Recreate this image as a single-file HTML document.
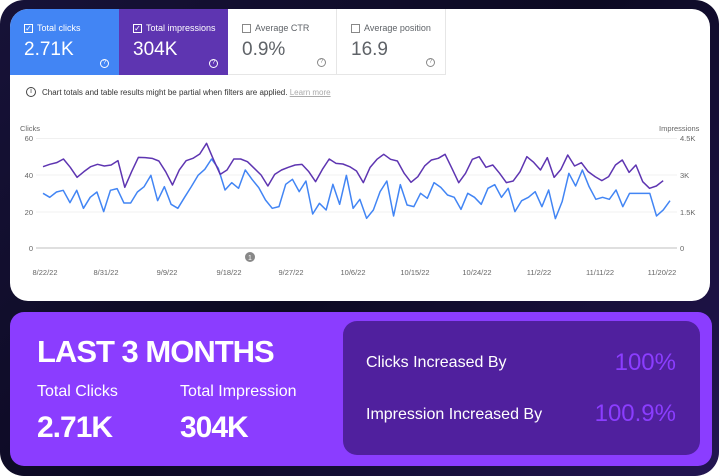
<!DOCTYPE html>
<html><head><meta charset="utf-8"><style>
*{margin:0;padding:0;box-sizing:border-box}
body{width:719px;height:476px;background:#fff;font-family:"Liberation Sans",sans-serif;overflow:hidden}
.frame{position:absolute;left:0;top:0;width:719px;height:476px;border-radius:24px;background:linear-gradient(135deg,#171238 0%,#0c0a22 50%,#231552 100%)}
.card{position:absolute;left:10px;top:9px;width:700px;height:292px;background:#fff;border-radius:18px;overflow:hidden}
.tile{position:absolute;top:0;height:66px;width:109px;color:#fff}
.tile .l{position:absolute;left:14px;top:14px;font-size:9px;display:flex;align-items:center}
.cb{width:9px;height:9px;border:1px solid #fff;margin-right:4px;font-size:8px;line-height:7px;text-align:center}
.tile .v{position:absolute;left:14px;top:30px;font-size:19px}
.q{position:absolute;right:10px;bottom:7px;width:9px;height:9px;border:1px solid #fff;border-radius:50%;font-size:6px;text-align:center;line-height:7px}
.w{color:#5f6368;border-right:1px solid #e6e6e6;border-bottom:1px solid #e6e6e6}
.w .cb{border-color:#888}
.w .q{border-color:#888;color:#888}
.bot{position:absolute;left:10px;top:312px;width:702px;height:154px;background:#8b3dff;border-radius:14px;color:#fff}
.inner{position:absolute;left:333px;top:9px;width:357px;height:134px;background:#50209e;border-radius:14px}
</style></head><body>
<div class="frame"></div>
<div class="card">
 <div class="tile" style="left:0;background:#4285f4"><div class="l"><span class="cb">✓</span>Total clicks</div><div class="v">2.71K</div><div class="q">?</div></div>
 <div class="tile" style="left:109px;background:#5e35b1"><div class="l"><span class="cb">✓</span>Total impressions</div><div class="v">304K</div><div class="q">?</div></div>
 <div class="tile w" style="left:218px"><div class="l"><span class="cb"></span>Average CTR</div><div class="v">0.9%</div><div class="q">?</div></div>
 <div class="tile w" style="left:327px"><div class="l"><span class="cb"></span>Average position</div><div class="v">16.9</div><div class="q">?</div></div>
 <div style="position:absolute;left:16px;top:78px;font-size:8px;color:#333;display:flex;align-items:center"><span style="width:10px;height:10px;border:1px solid #444;border-radius:50%;font-size:7px;text-align:center;line-height:8px;margin-right:6px">i</span>Chart totals and table results might be partial when filters are applied.&nbsp;<span style="color:#aaa;text-decoration:underline">Learn more</span></div>
</div>
<svg width="719" height="476" style="position:absolute;left:0;top:0" font-family="Liberation Sans" font-size="7.5" fill="#666">
 <text x="20" y="131">Clicks</text>
 <text x="659" y="131">Impressions</text>
 <g stroke="#f0f0f0" stroke-width="1"><line x1="36" x2="677" y1="138.5" y2="138.5"/><line x1="36" x2="677" y1="175" y2="175"/><line x1="36" x2="677" y1="212" y2="212"/></g>
 <line x1="36" x2="677" y1="248" y2="248" stroke="#ccc" stroke-width="1.2"/>
 <g text-anchor="end"><text x="33" y="141">60</text><text x="33" y="178">40</text><text x="33" y="215">20</text><text x="33" y="251">0</text></g>
 <g><text x="680" y="141">4.5K</text><text x="680" y="178">3K</text><text x="680" y="215">1.5K</text><text x="680" y="251">0</text></g>
 <g text-anchor="middle"><text x="45" y="275">8/22/22</text><text x="106" y="275">8/31/22</text><text x="167" y="275">9/9/22</text><text x="229" y="275">9/18/22</text><text x="291" y="275">9/27/22</text><text x="353" y="275">10/6/22</text><text x="415" y="275">10/15/22</text><text x="477" y="275">10/24/22</text><text x="539" y="275">11/2/22</text><text x="600" y="275">11/11/22</text><text x="662" y="275">11/20/22</text></g>
 <circle cx="250" cy="257" r="5" fill="#888"/><text x="250" y="260" fill="#fff" font-size="7" text-anchor="middle">1</text>
 <g transform="translate(43,110) scale(6.742,0.3333)"><polyline vector-effect="non-scaling-stroke" fill="none" stroke="#4285f4" stroke-width="1.5" stroke-linejoin="round" points="0,250 1,262 2,246 3,241 4,278 5,241 6,295 7,262 8,246 9,305 10,241 11,236 12,279 13,279 14,246 15,230 16,196 17,272 18,230 19,283 20,295 21,262 22,230 23,196 24,178 25,147 26,175 27,240 28,218 29,235 30,180 31,208 32,233 33,270 34,295 35,290 36,223 37,208 38,245 39,213 40,312 41,280 42,300 43,223 44,283 45,196 46,295 47,268 48,325 49,300 50,245 51,213 52,318 53,224 54,285 55,290 56,250 57,265 58,218 59,232 60,255 61,262 62,298 63,250 64,262 65,283 66,235 67,224 68,262 69,235 70,305 71,272 72,262 73,245 74,290 75,240 76,326 77,275 78,190 79,228 80,180 81,230 82,268 83,262 84,268 85,240 86,290 87,250 88,250 89,250 90,250 91,318 92,300 93,272"/></g>
 <g transform="translate(43,110) scale(6.815,0.3333)"><polyline vector-effect="non-scaling-stroke" fill="none" stroke="#5e35b1" stroke-width="1.5" stroke-linejoin="round" points="0,170 1,163 2,158 3,147 4,172 5,202 6,185 7,170 8,163 9,168 10,165 11,152 12,232 13,185 14,142 15,143 16,145 17,153 18,185 19,225 20,180 21,152 22,145 23,132 24,100 25,148 26,193 27,180 28,147 29,147 30,155 31,175 32,195 33,228 34,193 35,180 36,172 37,165 38,163 39,185 40,215 41,178 42,147 43,160 44,162 45,170 46,183 47,218 48,172 49,148 50,133 51,148 52,153 53,190 54,217 55,200 56,168 57,150 58,145 59,133 60,175 61,218 62,190 63,148 64,140 65,172 66,165 67,190 68,218 69,213 70,185 71,140 72,157 73,180 74,143 75,202 76,178 77,135 78,168 79,158 80,185 81,200 82,212 83,200 84,165 85,150 86,187 87,165 88,215 89,235 90,228 91,212"/></g>
</svg>
<div class="bot">
 <div style="position:absolute;left:27px;top:22px;font-size:31px;font-weight:bold;letter-spacing:-1px">LAST 3 MONTHS</div>
 <div style="position:absolute;left:27px;top:71px;font-size:16px">Total Clicks</div>
 <div style="position:absolute;left:170px;top:71px;font-size:16px">Total Impression</div>
 <div style="position:absolute;left:27px;top:99px;font-size:30px;font-weight:bold;letter-spacing:-1px">2.71K</div>
 <div style="position:absolute;left:170px;top:99px;font-size:30px;font-weight:bold;letter-spacing:-1px">304K</div>
 <div class="inner">
  <div style="position:absolute;left:23px;top:33px;font-size:16px">Clicks Increased By</div>
  <div style="position:absolute;right:24px;top:28px;font-size:24px;color:#8b3dff">100%</div>
  <div style="position:absolute;left:23px;top:85px;font-size:16px">Impression Increased By</div>
  <div style="position:absolute;right:24px;top:79px;font-size:24px;color:#8b3dff">100.9%</div>
 </div>
</div>
</body></html>
